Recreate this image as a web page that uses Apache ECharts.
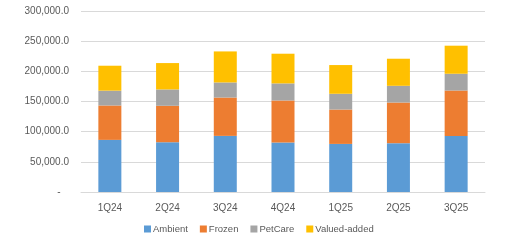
<!DOCTYPE html>
<html>
<head>
<meta charset="utf-8">
<script src="https://cdn.jsdelivr.net/npm/echarts@6/dist/echarts.min.js"></script>
<style>
html, body { margin: 0; padding: 0; background: #fff; }
#chart { width: 510px; height: 242px; }
</style>
</head>
<body>
<div id="chart"></div>
<script>
// quarters on the x axis
const quarters = ['1Q24', '2Q24', '3Q24', '4Q24', '1Q25', '2Q25', '3Q25'];

// segment values, stacked
const ambient = [86400, 82500, 93000, 81900, 79700, 80900, 93000];
const frozen = [57000, 60400, 63600, 69800, 57000, 67400, 75200];
const petCare = [24600, 27100, 25000, 28300, 26100, 27700, 27800];
const valuedAdded = [41300, 43700, 51400, 49200, 47600, 44900, 46500];

const seriesNames = ['Ambient', 'Frozen', 'PetCare', 'Valued-added'];
const seriesColors = ['#5B9BD5', '#ED7D31', '#A5A5A5', '#FFC000'];
const seriesData = [ambient, frozen, petCare, valuedAdded];

const myChart = echarts.init(document.getElementById('chart'));

// excel style number format, zero shown as a dash
const fmt = v => {
    if (v === 0) return '-   ';
    return v.toLocaleString('en-US', { minimumFractionDigits: 1, maximumFractionDigits: 1 });
};

const option = {
    animation: false,
    textStyle: { fontFamily: 'Liberation Sans' },
    grid: {
        left: 81,
        right: 25,
        top: 11,
        bottom: 50
    },
    legend: {
        data: seriesNames,
        bottom: 8,
        left: 144,
        padding: 0,
        itemWidth: 7,
        itemHeight: 7,
        itemGap: 12,
        icon: 'rect',
        textStyle: { color: '#595959', fontSize: 9.5, padding: [0, 0, 0, -3] }
    },
    xAxis: {
        type: 'category',
        data: quarters,
        axisTick: { show: false },
        axisLine: { lineStyle: { color: '#D9D9D9', width: 1 } },
        axisLabel: { color: '#595959', fontSize: 10, margin: 11 }
    },
    yAxis: {
        type: 'value',
        min: 0,
        max: 300000,
        interval: 50000,
        axisLine: { show: false },
        axisTick: { show: false },
        splitLine: { lineStyle: { color: '#D9D9D9', width: 1 } },
        axisLabel: { color: '#595959', fontSize: 10, margin: 12, formatter: fmt }
    },
    series: seriesNames.map((name, i) => ({
        name: name,
        type: 'bar',
        stack: 'total',
        barWidth: 23,
        itemStyle: { color: seriesColors[i] },
        data: seriesData[i]
    }))
};

myChart.setOption(option);
window.addEventListener('resize', () => {
    myChart.resize();
});
</script>
</body>
</html>
